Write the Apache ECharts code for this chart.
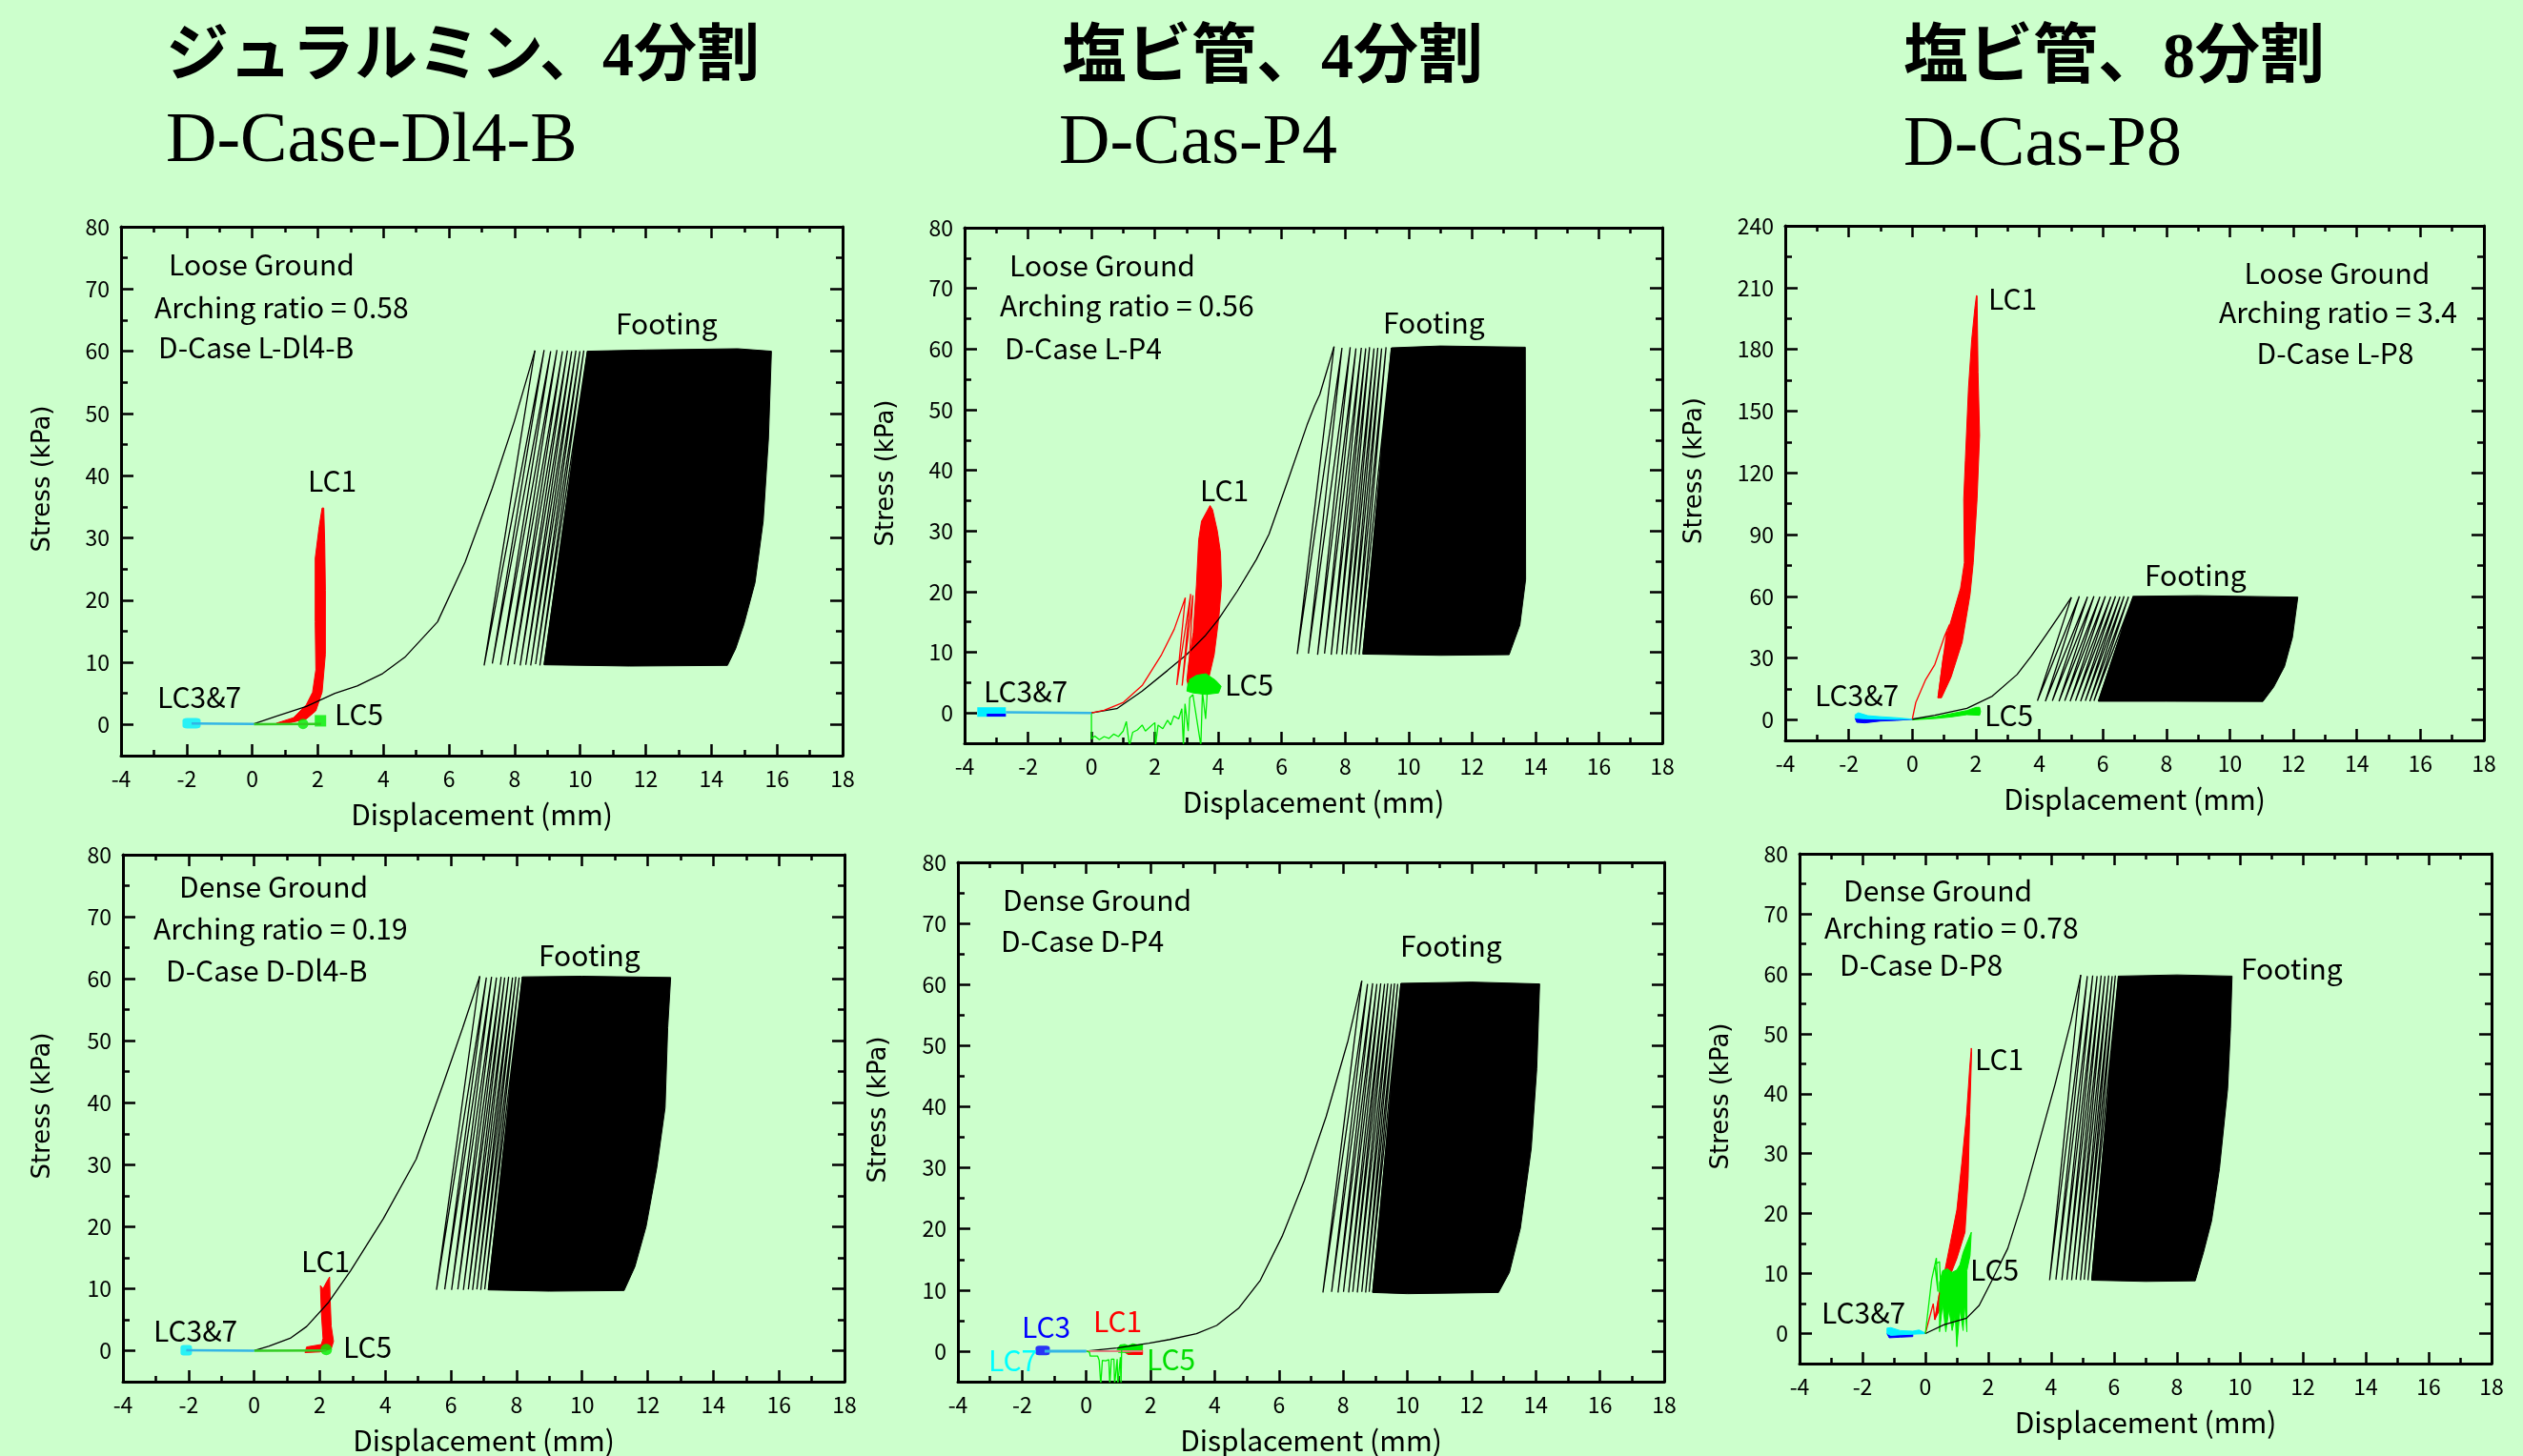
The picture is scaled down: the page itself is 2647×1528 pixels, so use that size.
<!DOCTYPE html>
<html><head><meta charset="utf-8">
<script src="https://cdn.jsdelivr.net/npm/echarts@6.0.0/dist/echarts.min.js"></script>
<style>html,body{margin:0;padding:0;background:#ccffcc;overflow:hidden}#main{width:2647px;height:1528px}</style>
</head><body><div id="main"></div>
<script>
// ---------- tick labels ----------
const xTicks = [-4,-2,0,2,4,6,8,10,12,14,16,18];
const yTicks80 = [0,10,20,30,40,50,60,70,80];
const yMinor80 = [5,15,25,35,45,55,65,75];
const yTicks240 = [0,30,60,90,120,150,180,210,240];
const yMinor240 = [15,45,75,105,135,165,195,225];

// ---------- Panel 1 : D-Case L-Dl4-B ----------
const p1FootLoad = [[0.05,0.1],[0.78,1.4],[1.65,2.9],[2.52,5.0],[3.2,6.2],[3.98,8.2],[4.65,10.8],[5.65,16.5],[6.49,26.1],[7.32,38.0],[7.99,48.7],[8.62,60.1]];
const p1FootPeaks = [[8.62,60.1],[8.9,60.2],[9.1,60.0],[9.29,60.2],[9.46,60.0],[9.61,60.1],[9.74,60.0],[9.87,60.1],[9.99,60.0],[10.11,60.1],[10.22,60.0]];
const p1FootValleys = [[7.07,9.5],[7.32,9.8],[7.57,9.6],[7.79,9.5],[7.99,9.7],[8.17,9.5],[8.34,9.6],[8.49,9.5],[8.64,9.7],[8.77,9.5],[8.9,9.6]];
const p1FootDense = [[8.9,9.6],[10.22,60.0],[12.0,60.2],[14.8,60.4],[15.83,60.0],[15.74,46],[15.58,32.7],[15.33,22.8],[14.99,16.1],[14.74,12.2],[14.49,9.5],[11.5,9.4]];
const p1LC1 = [[0.73,0.2],[1.26,1.1],[1.65,3.2],[1.84,5.2],[1.94,8.8],[1.92,16.5],[1.92,26.7],[2.04,31.8],[2.13,34.8],[2.18,34.8],[2.21,29.2],[2.23,21.6],[2.23,11.3],[2.13,5.2],[1.94,2.2],[1.65,0.9],[1.16,0.3],[0.73,0.1]];
const p1LC5Line = [[0.05,0.05],[2.1,0.1]];
const p1LC5Dot = [[1.55,0.1]];
const p1LC5Square = [[2.08,0.6]];
const p1LC37Line = [[-1.85,0.15],[0.05,0.1]];
const p1LC37Mark = [[-1.85,0.2]];

// ---------- Panel 2 : D-Case L-P4 ----------
const p2FootLoad = [[0,0],[0.8,0.7],[1.6,3.6],[2.4,7.0],[3.0,9.6],[3.6,12.8],[4.0,15.4],[4.6,20.1],[5.2,25.3],[5.6,29.5],[6.2,38.4],[6.8,47.5],[7.04,50.7],[7.2,52.5],[7.65,60.4]];
const p2FootPeaks = [[7.65,60.4],[7.9,60.2],[8.16,60.3],[8.34,60.1],[8.51,60.2],[8.65,60.1],[8.77,60.3],[8.91,60.1],[9.03,60.2],[9.15,60.1],[9.29,60.3],[9.46,60.2]];
const p2FootValleys = [[6.49,9.7],[6.84,9.8],[7.13,9.6],[7.35,9.8],[7.56,9.6],[7.73,9.7],[7.9,9.6],[8.04,9.7],[8.18,9.6],[8.32,9.7],[8.44,9.6],[8.56,9.7]];
const p2FootDense = [[8.56,9.7],[9.46,60.2],[11.0,60.5],[13.68,60.3],[13.69,22.0],[13.51,14.5],[13.17,9.6],[11.0,9.5]];
const p2LC1Thin = [[0,0],[0.4,0.45],[1.01,1.74],[1.61,4.6],[2.21,9.6],[2.61,13.8],[2.96,19.0],[3.01,19.1],[2.69,4.6],[3.13,19.6],[2.86,4.5],[3.2,19.4],[3.05,5.0]];
const p2LC1Blob = [[3.74,34.2],[3.47,31.6],[3.38,28.5],[3.31,21.1],[3.21,13.3],[3.06,8.0],[3.01,5.4],[3.06,4.4],[3.41,4.6],[3.71,6.0],[3.87,9.6],[4.02,15.9],[4.1,21.1],[4.07,26.4],[3.97,30.0],[3.82,33.5]];
const p2LC5Noise = [[0,0],[0,-4.3],[0.1,-3.8],[0.25,-4.4],[0.4,-3.9],[0.55,-4.2],[0.7,-3.5],[0.85,-3.9],[1.0,-3.0],[1.1,-1.4],[1.15,-3.5],[1.2,-5.4],[1.3,-3.2],[1.45,-2.8],[1.6,-2.0],[1.7,-3.0],[1.85,-2.3],[2.0,-1.6],[2.02,-5.4],[2.1,-2.0],[2.25,-2.6],[2.4,-1.2],[2.5,-2.0],[2.6,-0.5],[2.75,-1.0],[2.85,0.7],[2.9,-5.4],[2.95,1.5],[3.05,-3.0],[3.1,2.5],[3.2,3.0],[3.45,-5.4],[3.5,3.5],[3.6,-1.0],[3.65,3.2]];
const p2LC5Blob = [[3.06,5.4],[3.31,6.2],[3.61,6.46],[3.91,5.4],[4.09,4.4],[4.01,3.3],[3.61,3.05],[3.21,3.3],[3.01,3.6]];
const p2LC37Thick = [[-3.6,0.15],[-2.7,0.15]];
const p2LC3Strip = [[-3.3,-0.35],[-2.7,-0.35]];
const p2LC37Line = [[-2.7,0.1],[0,0]];

// ---------- Panel 3 : D-Case L-P8 ----------
const p3FootLoad = [[0,0.3],[0.71,2.2],[1.72,5.6],[2.52,11.5],[3.3,22.0],[3.75,31.0],[4.2,41.0],[4.6,50.0],[5.01,59.5]];
const p3FootPeaks = [[5.01,59.5],[5.26,60.0],[5.52,59.8],[5.72,60.0],[5.91,59.8],[6.08,60.0],[6.25,59.8],[6.4,60.0],[6.54,59.8],[6.67,60.0],[6.81,59.8],[6.96,60.0]];
const p3FootValleys = [[3.94,9.2],[4.19,9.0],[4.41,9.2],[4.62,9.0],[4.8,9.2],[4.97,9.0],[5.14,9.2],[5.3,9.0],[5.45,9.2],[5.59,9.0],[5.72,9.2],[5.86,9.0]];
const p3FootDense = [[5.86,9.0],[6.96,60.0],[9.0,60.3],[12.14,59.6],[11.97,40.0],[11.72,25.9],[11.38,15.9],[11.04,8.9],[8.0,9.0]];
const p3LC1Thin = [[0,0.3],[0.11,8.4],[0.41,19.2],[0.71,26.9],[1.02,40.8],[1.17,46.2],[0.81,10.7],[1.1,44.0],[0.9,12.0]];
const p3LC1Band = [[0.81,10.7],[0.97,30.0],[1.17,45.5],[1.52,64.0],[1.64,76.4],[1.62,107.2],[1.67,125.8],[1.77,161.3],[1.87,184.5],[1.97,200.0],[2.02,206.1],[2.04,206.0],[2.07,169.0],[2.12,138.2],[2.04,107.2],[1.92,76.4],[1.82,60.9],[1.57,37.7],[1.22,20.7],[0.92,10.7]];
const p3LC5 = [[0,0.3],[0.71,1.4],[1.22,3.0],[1.72,4.5],[2.0,6.0],[2.12,6.1],[2.15,4.0],[2.12,2.2],[1.72,2.5],[1.22,1.4],[0.71,0.6],[0,0]];
const p3LC7 = [[-1.8,2.5],[-1.7,3.4],[-1.4,2.0],[-1.0,1.5],[-0.5,1.0],[0,0.3],[-0.5,0.2],[-1.0,0.3],[-1.5,0.5],[-1.8,0.8]];
const p3LC3 = [[-1.8,0.8],[-1.5,0.5],[-1.0,0.2],[-0.5,0.2],[0,0.3],[-0.5,-0.3],[-1.0,-0.6],[-1.5,-1.5],[-1.75,-1.2]];

// ---------- Panel 4 : D-Case D-Dl4-B ----------
const p4FootLoad = [[0,0],[0.44,0.7],[1.1,2.0],[1.6,3.9],[2.27,7.8],[2.94,12.9],[3.94,21.3],[4.94,30.9],[5.77,43.1],[6.36,52.1],[6.88,60.4]];
const p4FootPeaks = [[6.88,60.4],[7.08,60.2],[7.24,60.3],[7.39,60.2],[7.53,60.3],[7.64,60.2],[7.76,60.3],[7.88,60.2],[7.98,60.3],[8.08,60.2],[8.18,60.3]];
const p4FootValleys = [[5.56,9.8],[5.81,9.9],[6.02,9.8],[6.21,9.9],[6.38,9.8],[6.53,9.9],[6.66,9.8],[6.79,9.9],[6.91,9.8],[7.03,9.9],[7.14,9.8]];
const p4FootDense = [[7.14,9.8],[8.18,60.3],[10.0,60.4],[12.7,60.2],[12.61,52.1],[12.53,39.2],[12.28,29.6],[11.95,20.0],[11.61,13.55],[11.28,9.7],[9.0,9.6]];
const p4LC1 = [[2.02,10.5],[2.05,6.0],[2.1,2.0],[2.05,1.0],[1.6,0.6],[1.55,-0.3],[2.0,-0.2],[2.35,0.3],[2.42,1.5],[2.35,4.0],[2.32,8.0],[2.3,11.9],[2.2,11.0],[2.1,10.0]];
const p4LC5Line = [[0,0],[2.2,0.05]];
const p4LC5Dot = [[2.2,0.2]];
const p4LC37Line = [[-2.07,0.07],[0,0]];
const p4LC37Mark = [[-2.07,0.07]];

// ---------- Panel 5 : D-Case D-P4 ----------
const p5FootLoad = [[0,0],[0.96,0.53],[1.95,1.31],[2.6,1.9],[3.43,2.87],[4.06,4.2],[4.74,7.0],[5.42,11.6],[6.1,18.8],[6.79,27.9],[7.47,38.4],[8.15,50.8],[8.58,60.6]];
const p5FootPeaks = [[8.58,60.6],[8.76,60.1],[8.92,60.2],[9.05,60.1],[9.17,60.2],[9.29,60.1],[9.39,60.2],[9.5,60.1],[9.6,60.2],[9.7,60.1],[9.8,60.2]];
const p5FootValleys = [[7.37,9.6],[7.64,9.7],[7.84,9.6],[8.01,9.7],[8.17,9.6],[8.3,9.7],[8.44,9.6],[8.58,9.7],[8.7,9.6],[8.81,9.7],[8.92,9.6]];
const p5FootDense = [[8.92,9.6],[9.8,60.2],[12.0,60.4],[14.12,60.1],[14.03,46.2],[13.86,33.2],[13.52,20.1],[13.18,12.9],[12.84,9.6],[10.0,9.4]];
const p5LC1Line = [[0,0],[1.75,0]];
const p5LC1Blob = [[1.1,0.2],[1.75,0.2],[1.75,-0.55],[1.3,-0.55]];
const p5LC5Noise = [[0,0],[0.1,-0.2],[0.12,-0.8],[0.35,-0.8],[0.4,-1.5],[0.45,-5.5],[0.5,-1.5],[0.6,-1.6],[0.7,-1.4],[0.73,-5.5],[0.78,-1.3],[0.86,-1.3],[0.88,-5.5],[0.96,-1.3],[0.98,-5.5],[1.06,-1.0],[1.08,-5.5],[1.1,0.3]];
const p5LC5Blob = [[0.96,0.2],[1.05,1.0],[1.2,1.1],[1.3,0.9],[1.45,1.2],[1.6,1.0],[1.75,1.1],[1.75,0.3],[1.6,0.0],[1.3,-0.2],[1.0,-0.2]];
const p5LC7Line = [[-1.3,0],[0,0]];
const p5LC3Mark = [[-1.36,0.1]];

// ---------- Panel 6 : D-Case D-P8 ----------
const p6FootLoad = [[0,0],[0.6,1.5],[1.31,2.56],[1.71,4.7],[2.12,8.9],[2.62,14.2],[3.13,22.7],[3.63,32.2],[4.12,41.5],[4.63,52.1],[4.94,59.8]];
const p6FootPeaks = [[4.94,59.8],[5.15,59.6],[5.32,59.7],[5.46,59.6],[5.59,59.7],[5.71,59.6],[5.83,59.7],[5.94,59.6],[6.04,59.7],[6.14,59.6]];
const p6FootValleys = [[3.95,8.9],[4.15,9.0],[4.34,8.9],[4.5,9.0],[4.65,8.9],[4.79,9.0],[4.93,8.9],[5.05,9.0],[5.17,8.9],[5.29,8.9]];
const p6FootDense = [[5.29,8.9],[6.14,59.6],[8.0,59.8],[9.75,59.6],[9.7,50.8],[9.61,40.8],[9.35,27.5],[9.1,18.8],[8.84,13.5],[8.58,8.8],[7.0,8.7]];
const p6LC1Thin = [[0,0],[0.25,5.0],[0.3,2.3],[0.45,6.8]];
const p6LC1Band = [[0.45,6.8],[0.6,10.0],[0.8,15.3],[1.0,20.6],[1.16,28.5],[1.31,36.5],[1.41,44.4],[1.46,47.6],[1.47,47.0],[1.41,36.5],[1.36,25.9],[1.26,16.9],[1.0,12.5],[0.7,8.5],[0.5,4.5],[0.3,2.3]];
const p6LC5Thin = [[0,0],[0.2,9.0],[0.35,12.6],[0.4,7.0],[0.3,11.5],[0.45,12.0],[0.5,6.0]];
const p6LC5Mass = [[0.45,8.5],[0.55,10.5],[0.7,10.8],[0.85,10.2],[1.0,10.6],[1.1,11.5],[1.2,13.5],[1.35,15.5],[1.46,16.9],[1.42,13.0],[1.32,10.5],[1.32,0.3],[1.25,5.0],[1.2,0.5],[1.1,4.0],[1.0,-2.2],[0.95,3.0],[0.85,0.5],[0.75,4.0],[0.65,0.3],[0.55,5.0],[0.45,0.3]];
const p6LC7 = [[-1.22,0.9],[-1.1,1.0],[-0.8,0.5],[-0.4,0.4],[-0.2,0.6],[0.04,0],[-0.4,-0.1],[-0.8,-0.2],[-1.1,-0.3],[-1.22,0]];
const p6LC3 = [[-1.22,0],[-1.1,-0.3],[-0.8,-0.2],[-0.4,-0.1],[-0.4,-0.5],[-0.8,-0.6],[-1.15,-0.7]];

// ---------- layout / styles ----------
const FJP = '"Noto Sans CJK JP"';
const RED = '#ff0000', GREEN = '#00ee00', CYAN = '#00eeff', BLUE = '#0000ff', LINK = '#33b5e5';
const layout = [
  {left:127, top:238, width:757, height:555, yMin:-5, yMax:80, ticks:yTicks80, minor:yMinor80, nameGap:69},
  {left:1012, top:239, width:732, height:541, yMin:-5, yMax:80, ticks:yTicks80, minor:yMinor80, nameGap:69},
  {left:1873, top:237, width:733, height:540, yMin:-10, yMax:240, ticks:yTicks240, minor:yMinor240, nameGap:82},
  {left:129, top:897, width:757, height:556, yMin:-5, yMax:80, ticks:yTicks80, minor:yMinor80, nameGap:71},
  {left:1005, top:905, width:741, height:546, yMin:-5, yMax:80, ticks:yTicks80, minor:yMinor80, nameGap:70},
  {left:1888, top:896, width:726, height:535, yMin:-5, yMax:80, ticks:yTicks80, minor:yMinor80, nameGap:69}
];

function zigzag(peaks, valleys) {
  const out = [];
  for (let i = 0; i < peaks.length; i++) { out.push(peaks[i]); if (valleys[i]) out.push(valleys[i]); }
  return out;
}
function poly(p, pts, color) {
  return {type:'custom', xAxisIndex:2*p, yAxisIndex:4*p, data:pts, encode:{x:0,y:1}, clip:true, silent:true,
    renderItem:function(params, api){
      if (params.dataIndex !== 0) return null;
      return {type:'polygon', shape:{points:pts.map(function(q){return api.coord(q);})},
        style:{fill:color, stroke:color, lineWidth:1}};
    }};
}
function line(p, pts, color, w) {
  return {type:'line', xAxisIndex:2*p, yAxisIndex:4*p, data:pts, showSymbol:false, symbol:'none',
    lineStyle:{color:color, width:w}, clip:true, silent:true};
}
function marks(p, pts, color, symbol, size) {
  return {type:'scatter', xAxisIndex:2*p, yAxisIndex:4*p, data:pts, symbol:symbol, symbolSize:size,
    itemStyle:{color:color}, clip:true, silent:true};
}
function footing(p, load, peaks, valleys, dense) {
  return [poly(p, dense, '#000'), line(p, zigzag(peaks, valleys), '#000', 1.3), line(p, load, '#000', 1.3)];
}

const series = [].concat(
  footing(0, p1FootLoad, p1FootPeaks, p1FootValleys, p1FootDense),
  [poly(0, p1LC1, RED), line(0, p1LC5Line, '#33cc22', 2.5), marks(0, p1LC5Dot, GREEN, 'circle', 11),
   marks(0, p1LC5Square, GREEN, 'rect', [12,12]), line(0, p1LC37Line, LINK, 2.5),
   marks(0, p1LC37Mark, CYAN, 'roundRect', [19,11])],
  footing(1, p2FootLoad, p2FootPeaks, p2FootValleys, p2FootDense),
  [line(1, p2LC1Thin, RED, 1.3), poly(1, p2LC1Blob, RED), line(1, p2LC5Noise, GREEN, 1.3), poly(1, p2LC5Blob, GREEN),
   line(1, p2LC37Line, LINK, 2.5), line(1, p2LC37Thick, CYAN, 10), line(1, p2LC3Strip, BLUE, 3)],
  footing(2, p3FootLoad, p3FootPeaks, p3FootValleys, p3FootDense),
  [line(2, p3LC1Thin, RED, 1.3), poly(2, p3LC1Band, RED), poly(2, p3LC5, GREEN), poly(2, p3LC3, BLUE), poly(2, p3LC7, CYAN)],
  footing(3, p4FootLoad, p4FootPeaks, p4FootValleys, p4FootDense),
  [poly(3, p4LC1, RED), line(3, p4LC5Line, '#33cc22', 2.5), marks(3, p4LC5Dot, GREEN, 'circle', 12),
   line(3, p4LC37Line, LINK, 2.5), marks(3, p4LC37Mark, CYAN, 'roundRect', [12,11])],
  footing(4, p5FootLoad, p5FootPeaks, p5FootValleys, p5FootDense),
  [line(4, p5LC1Line, '#e08080', 2), poly(4, p5LC1Blob, RED), line(4, p5LC5Noise, GREEN, 1.3), poly(4, p5LC5Blob, GREEN),
   line(4, p5LC7Line, LINK, 3), marks(4, p5LC3Mark, BLUE, 'roundRect', [15,10])],
  footing(5, p6FootLoad, p6FootPeaks, p6FootValleys, p6FootDense),
  [line(5, p6LC1Thin, RED, 1.3), poly(5, p6LC1Band, RED), line(5, p6LC5Thin, GREEN, 1.3), poly(5, p6LC5Mass, GREEN),
   poly(5, p6LC3, BLUE), poly(5, p6LC7, CYAN)]
);

const grids = [], xAxes = [], yAxes = [];
layout.forEach(function(L, i){
  grids.push({left:L.left, top:L.top, width:L.width, height:L.height, containLabel:false, show:false});
  const axLine = {show:true, onZero:false, lineStyle:{color:'#000', width:3}};
  const noLine = {show:false, onZero:false};
  const tickStyle = {color:'#000', width:2.5};
  const xBase = {gridIndex:i, type:'value', min:xTicks[0], max:xTicks[xTicks.length-1], interval:xTicks[1]-xTicks[0],
    axisLine:axLine, axisTick:{show:true, inside:true, length:12, lineStyle:tickStyle},
    minorTick:{show:true, splitNumber:2, length:6, lineStyle:tickStyle}, splitLine:{show:false}, minorSplitLine:{show:false}};
  xAxes.push(Object.assign({}, xBase, {position:'bottom',
    axisLabel:{show:true, margin:13, color:'#000', fontSize:23, fontFamily:FJP},
    name:'Displacement (mm)', nameLocation:'middle', nameGap:47,
    nameTextStyle:{color:'#000', fontSize:30, fontFamily:FJP}}));
  xAxes.push(Object.assign({}, xBase, {position:'top', axisLabel:{show:false}}));
  const yBase = {gridIndex:i, type:'value', min:L.yMin, max:L.yMax, interval:L.ticks[1]-L.ticks[0], splitLine:{show:false}};
  yAxes.push(Object.assign({}, yBase, {position:'left', axisLine:axLine,
    axisTick:{show:true, inside:true, length:13, lineStyle:tickStyle, customValues:L.ticks},
    axisLabel:{show:true, margin:12, color:'#000', fontSize:23, fontFamily:FJP, customValues:L.ticks},
    name:'Stress (kPa)', nameLocation:'middle', nameGap:L.nameGap, nameRotate:90,
    nameTextStyle:{color:'#000', fontSize:26, fontFamily:'"DejaVu Sans"', padding:[0,0,0,26]}}));
  yAxes.push(Object.assign({}, yBase, {position:'left', axisLine:noLine,
    axisTick:{show:true, inside:true, length:7, lineStyle:tickStyle, customValues:L.minor}, axisLabel:{show:false}}));
  yAxes.push(Object.assign({}, yBase, {position:'right', axisLine:axLine,
    axisTick:{show:true, inside:true, length:13, lineStyle:tickStyle, customValues:L.ticks}, axisLabel:{show:false}}));
  yAxes.push(Object.assign({}, yBase, {position:'right', axisLine:noLine,
    axisTick:{show:true, inside:true, length:7, lineStyle:tickStyle, customValues:L.minor}, axisLabel:{show:false}}));
});

// ---------- text (titles and in-plot annotations) ----------
const titleTexts = [
  ['ジュラルミン、4分割', 174, 62, 66], ['塩ビ管、4分割', 1114, 63, 68], ['塩ビ管、8分割', 1997, 63, 68]
];
const caseTexts = [['D-Case-Dl4-B', 174, 150], ['D-Cas-P4', 1111, 152], ['D-Cas-P8', 1997, 154]];
const notes = [
  ['Loose Ground',177,278],['Arching ratio = 0.58',162,323],['D-Case L-Dl4-B',166,365],['Footing',646,340],
  ['LC1',323,505],['LC3&7',165,732],['LC5',351,750],
  ['Loose Ground',1059,279],['Arching ratio = 0.56',1049,321],['D-Case L-P4',1054,366],['Footing',1451,339],
  ['LC1',1259,515],['LC5',1285,719],['LC3&7',1032,726],
  ['Loose Ground',2452,287,'#000','center'],['Arching ratio = 3.4',2453,328,'#000','center'],['D-Case L-P8',2450,371,'#000','center'],
  ['Footing',2250,604],['LC1',2086,314],['LC5',2082,751],['LC3&7',1904,730],
  ['Dense Ground',188,931],['Arching ratio = 0.19',161,975],['D-Case D-Dl4-B',174,1019],['Footing',565,1003],
  ['LC1',316,1324],['LC3&7',161,1397],['LC5',360,1414],
  ['Dense Ground',1052,945],['D-Case D-P4',1050,988],['Footing',1469,993],
  ['LC3',1072,1393,BLUE],['LC1',1147,1387,RED],['LC7',1037,1428,'#00ffff'],['LC5',1203,1427,'#00dd00'],
  ['Dense Ground',1934,935],['Arching ratio = 0.78',1914,974],['D-Case D-P8',1930,1013],['Footing',2351,1017],
  ['LC1',2072,1112],['LC5',2067,1333],['LC3&7',1911,1378]
];
const graphics = [];
titleTexts.forEach(function(t){
  graphics.push({type:'text', x:t[1], y:t[2], silent:true, style:{text:t[0], fill:'#000', fontSize:t[3],
    fontFamily:'"Liberation Serif", "Noto Sans CJK JP"', fontWeight:'bold', align:'left', verticalAlign:'middle'}});
});
caseTexts.forEach(function(t){
  graphics.push({type:'text', x:t[1], y:t[2], silent:true, style:{text:t[0], fill:'#000', fontSize:74,
    fontFamily:'"Liberation Serif"', align:'left', verticalAlign:'middle'}});
});
notes.forEach(function(t){
  graphics.push({type:'text', x:t[1], y:t[2], silent:true, z:100, style:{text:t[0], fill:t[3]||'#000', fontSize:30,
    fontFamily:FJP, align:t[4]||'left', verticalAlign:'middle'}});
});

const chart = echarts.init(document.getElementById('main'), null, {renderer:'canvas', width:2647, height:1528});
chart.setOption({
  backgroundColor:'#ccffcc', animation:false,
  grid:grids, xAxis:xAxes, yAxis:yAxes, series:series, graphic:graphics
});
</script></body></html>
